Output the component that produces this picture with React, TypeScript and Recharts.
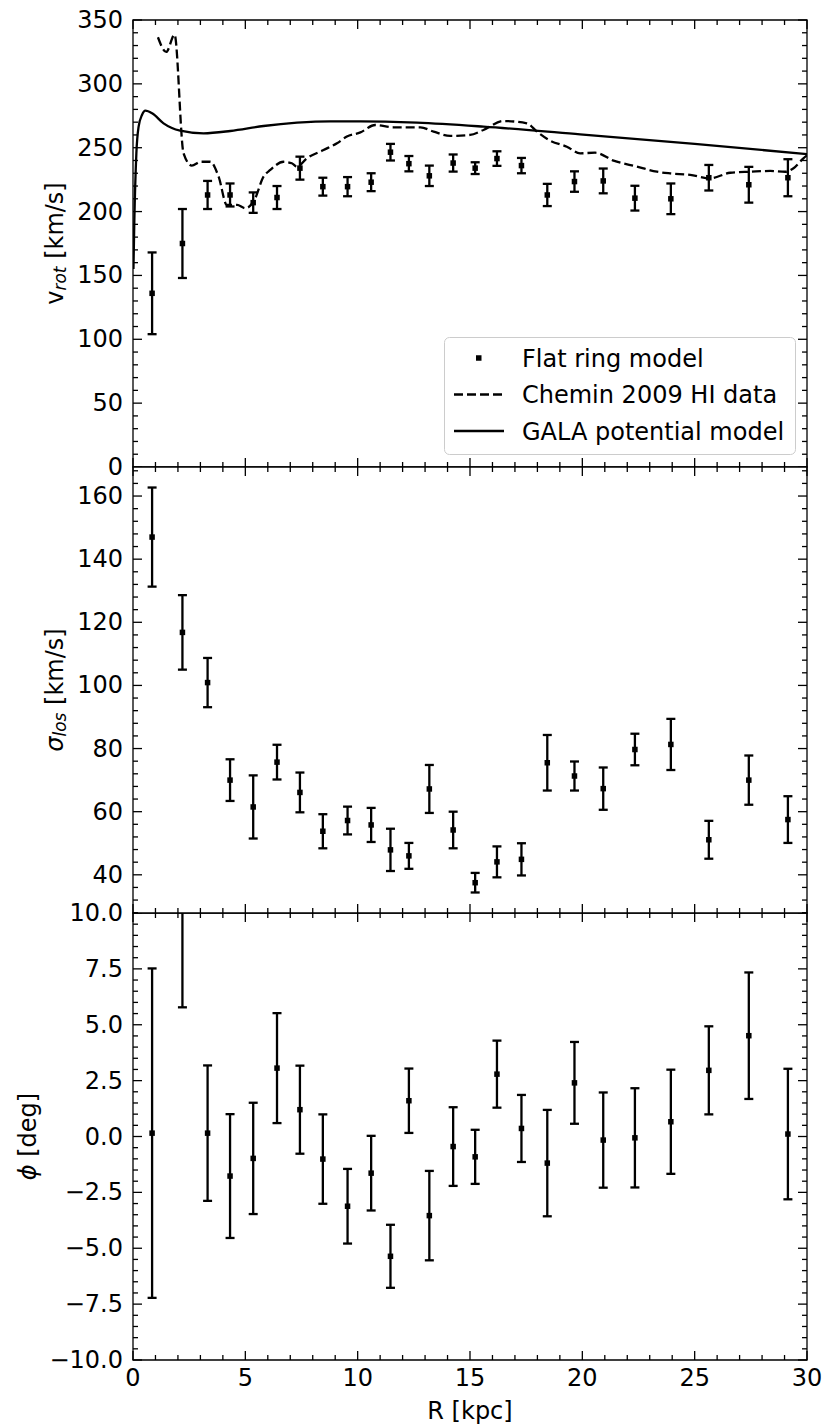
import React from 'react';
import {
  ComposedChart,
  Scatter,
  Line,
  XAxis,
  YAxis,
  ErrorBar,
  ReferenceArea,
  Legend,
  CartesianGrid,
} from 'recharts';

// ring radii shared by the three panels (kpc)
const ringR = [0.85, 2.2, 3.32, 4.32, 5.35, 6.41, 7.43, 8.45, 9.55, 10.6, 11.46, 12.28, 13.19,
  14.25, 15.23, 16.2, 17.29, 18.44, 19.65, 20.93, 22.34, 23.94, 25.63, 27.41, 29.15];

const vRot = [136, 175, 213, 213, 207, 211, 234, 219.5, 219.5, 223, 246.5, 237.5, 228, 238, 234,
  241.5, 236, 213, 223.5, 224, 210.5, 210, 226.5, 221, 226.5];
const vRotErr = [32, 27, 11, 9, 8, 9, 9, 7, 7.5, 7, 6.5, 6, 8, 6.7, 4.6, 5.7, 6, 8.7, 8, 9.7, 9.7,
  12, 10, 14, 14.5];

const sigmaLos = [147, 116.8, 100.9, 70, 61.5, 75.7, 66.1, 53.8, 57.2, 55.8, 47.9, 46, 67.2, 54.2,
  37.5, 44.1, 44.9, 75.5, 71.3, 67.3, 79.7, 81.3, 51.1, 70, 57.5];
const sigmaLosErr = [15.7, 11.8, 7.8, 6.6, 10, 5.5, 6.3, 5.4, 4.4, 5.4, 6.7, 4.1, 7.6, 5.8, 3.1, 4.9,
  5.1, 8.8, 4.6, 6.7, 5, 8.1, 6, 7.8, 7.4];

const phi = [0.15, 11.5, 0.15, -1.77, -0.98, 3.06, 1.2, -1.01, -3.12, -1.64, -5.36, 1.6, -3.54,
  -0.45, -0.91, 2.79, 0.36, -1.19, 2.4, -0.16, -0.06, 0.66, 2.96, 4.51, 0.11];
const phiErr = [7.37, 5.72, 3.03, 2.77, 2.49, 2.46, 1.97, 2.0, 1.67, 1.67, 1.41, 1.44, 2.0, 1.76,
  1.21, 1.5, 1.5, 2.38, 1.83, 2.13, 2.22, 2.33, 1.97, 2.83, 2.92];

// Chemin et al. 2009 HI rotation curve
const cheminR = [1.11, 1.48, 1.85, 2.25, 2.62, 3.0, 3.44, 3.81, 4.18, 4.63, 5.0, 5.4, 5.81, 6.11,
  6.7, 7.07, 7.3, 7.74, 8.48, 9.08, 9.52, 10.12, 10.78, 11.6, 12.79, 13.38, 14.12, 15.0, 15.6,
  16.49, 17.53, 17.98, 18.57, 19.31, 19.9, 20.57, 21.39, 22.43, 23.32, 23.91, 24.8, 25.69, 26.58,
  27.47, 28.36, 29.03, 29.4, 29.84, 30];
const cheminV = [336.5, 325, 338.5, 245.6, 236, 239, 239, 227.3, 205.2, 205.2, 202.6, 209, 227.3,
  232.6, 239, 237.8, 235.2, 241.7, 248.2, 253.5, 258.7, 262, 267.8, 266, 266, 262.6, 259.2, 260,
  263.9, 270.9, 269.1, 262.6, 255.5, 250.8, 245.6, 246.1, 239.9, 235.2, 231.2, 229.9, 228.7, 226,
  230.4, 231.2, 231.8, 231.2, 233.9, 241.7, 244];

// GALA potential circular velocity
const galaR = [0.02, 0.06, 0.15, 0.25, 0.4, 0.55, 0.85, 1.36, 2.1, 3.14, 4.33, 5.81, 7.3, 8.78,
  10.12, 12.64, 15.6, 19.9, 25, 30];
const galaV = [155, 193, 245.6, 266.5, 275.6, 279, 277, 269.1, 263.4, 261.3, 263.1, 267, 269.6,
  270.7, 270.7, 269.6, 266.5, 260.5, 253, 245];

const xMajor = [0, 5, 10, 15, 20, 25, 30];
const vMajor = [0, 50, 100, 150, 200, 250, 300, 350];
const sigmaMajor = [40, 60, 80, 100, 120, 140, 160];
const phiMajor = [-10, -7.5, -5, -2.5, 0, 2.5, 5, 7.5, 10];

const legendNames = ['Flat ring model', 'Chemin 2009 HI data', 'GALA potential model'];

const FONT = '"DejaVu Sans", sans-serif';
const W = 824;
const LEFT = 133;
const RIGHT = 807;
const PLOT_W = RIGHT - LEFT;
const LW = 2.3;
const PAD = 13; // room above/below each plot so edge tick labels are not cut

const steps = (lo: number, hi: number, step: number) => {
  const out: number[] = [];
  for (let v = lo; v <= hi + 1e-9; v += step) out.push(Math.round(v * 1000) / 1000);
  return out;
};

const xTicks = steps(0, 30, 1);
const vTicks = steps(0, 350, 10);
const sigmaTicks = steps(28, 168, 4);
const phiTicks = steps(-10, 10, 0.5);

const isIn = (list: number[], v: number) => list.some((m) => Math.abs(m - v) < 1e-6);
const minus = (s: string) => s.replace('-', '\u2212');

const rows = (xs: number[], ys: number[], errs?: number[]) =>
  xs.map((r, i) => ({ R: r, v: ys[i], err: errs ? errs[i] : 0 }));

const makeXTick = (plotH: number, labels: boolean) => (props: any) => {
  const { x, y, payload } = props;
  const major = isIn(xMajor, payload.value);
  const len = major ? 9 : 5;
  return (
    <g>
      <line x1={x} y1={y} x2={x} y2={y - len} stroke="#000" strokeWidth={1.3} />
      <line x1={x} y1={y - plotH} x2={x} y2={y - plotH + len} stroke="#000" strokeWidth={1.3} />
      {labels && major && (
        <text x={x} y={y + 26} textAnchor="middle" fontSize={24} fontFamily={FONT} fill="#000">
          {payload.value}
        </text>
      )}
    </g>
  );
};

const makeYTick = (majors: number[], fmt: (v: number) => string) => (props: any) => {
  const { x, y, payload } = props;
  const major = isIn(majors, payload.value);
  const len = major ? 9 : 5;
  return (
    <g>
      <line x1={x} y1={y} x2={x + len} y2={y} stroke="#000" strokeWidth={1.3} />
      <line x1={x + PLOT_W} y1={y} x2={x + PLOT_W - len} y2={y} stroke="#000" strokeWidth={1.3} />
      {major && (
        <text x={x - 10} y={y} textAnchor="end" dominantBaseline="central" fontSize={24}
          fontFamily={FONT} fill="#000">
          {fmt(payload.value)}
        </text>
      )}
    </g>
  );
};

const yTitle = (dx: number, body: React.ReactNode) => (props: any) => {
  const vb = props.viewBox;
  const cx = vb.x + vb.width - dx;
  const cy = vb.y + vb.height / 2;
  return (
    <text x={cx} y={cy} transform={`rotate(-90 ${cx} ${cy})`} textAnchor="middle"
      dominantBaseline="central" fontSize={24} fontFamily={FONT} fill="#000">
      {body}
    </text>
  );
};

const Square = (props: any) => (
  <rect x={props.cx - 2.75} y={props.cy - 2.75} width={5.5} height={5.5} fill="#000" />
);

const LegendBox = ({ payload }: any) => {
  const names: string[] = (payload || []).map((p: any) => p.value);
  const shown = legendNames.filter((n) => names.includes(n));
  return (
    <svg width={352} height={118} style={{ display: 'block' }}>
      <rect x={0.5} y={0.5} width={351} height={117} rx={5} fill="#fff" fillOpacity={0.8}
        stroke="#cccccc" strokeWidth={1} />
      {shown.map((name, i) => {
        const cy = 21 + i * 36.5;
        return (
          <g key={name}>
            {name === 'Flat ring model' && <rect x={32} y={cy - 2.75} width={5.5} height={5.5} fill="#000" />}
            {name === 'Chemin 2009 HI data' && (
              <line x1={10} y1={cy} x2={60} y2={cy} stroke="#000" strokeWidth={LW} strokeDasharray="9 4" />
            )}
            {name === 'GALA potential model' && (
              <line x1={10} y1={cy} x2={60} y2={cy} stroke="#000" strokeWidth={LW} />
            )}
            <text x={78} y={cy + 8.5} fontSize={24} fontFamily={FONT} fill="#000">{name}</text>
          </g>
        );
      })}
    </svg>
  );
};

// axes are 1px thick (a zero-size axis is not drawn at all); ticks are drawn by hand, inward
const xAxisProps = (plotH: number, labels: boolean) => ({
  dataKey: 'R',
  type: 'number' as const,
  domain: [0, 30],
  allowDataOverflow: true,
  ticks: xTicks,
  interval: 0,
  axisLine: false,
  tickLine: false,
  tickSize: 0,
  tickMargin: 0,
  tick: makeXTick(plotH, labels),
});

const yAxisCommon = {
  type: 'number' as const,
  allowDataOverflow: true,
  interval: 0,
  width: 1,
  axisLine: false,
  tickLine: false,
  tickSize: 0,
  tickMargin: 0,
};

// plot area 20..467 on the page
const RotPanel = () => {
  const plotH = 447;
  return (
    <ComposedChart width={W} height={20 + plotH + PAD + 1}
      margin={{ top: 20, right: W - RIGHT, bottom: PAD, left: LEFT - 1 }}>
      <XAxis {...xAxisProps(plotH, false)} height={1} />
      <YAxis {...yAxisCommon} domain={[0, 350]} ticks={vTicks}
        tick={makeYTick(vMajor, (v) => String(v))}
        label={{
          content: yTitle(78, (
            <>
              v<tspan fontSize={17} fontStyle="italic" dy={5}>rot</tspan>
              <tspan dy={-5}> [km/s]</tspan>
            </>
          )),
        }} />
      <Line data={rows(galaR, galaV)} dataKey="v" name="GALA potential model" type="monotone"
        stroke="#000" strokeWidth={LW} dot={false} isAnimationActive={false} />
      <Line data={rows(cheminR, cheminV)} dataKey="v" name="Chemin 2009 HI data" type="monotone"
        stroke="#000" strokeWidth={LW} strokeDasharray="9 4" dot={false} isAnimationActive={false} />
      <Scatter data={rows(ringR, vRot, vRotErr)} dataKey="v" name="Flat ring model" shape={Square}
        isAnimationActive={false}>
        <ErrorBar dataKey="err" direction="y" width={4.5} strokeWidth={LW} stroke="#000"
          isAnimationActive={false} />
      </Scatter>
      <ReferenceArea x1={0} x2={30} y1={0} y2={350} fill="none" stroke="#000" strokeWidth={1.3}
        fillOpacity={0} />
      <Legend layout="vertical" align="center" verticalAlign="middle"
        wrapperStyle={{ left: 444, top: 337, width: 352, height: 118 }}
        content={(p: any) => <LegendBox payload={p.payload} />} />
    </ComposedChart>
  );
};

// plot area 467..913 on the page; white plot background hides anything poking up from below
const SigmaPanel = () => {
  const plotH = 446;
  const lo = 27.9;
  const hi = 169.2;
  return (
    <ComposedChart width={W} height={PAD + plotH + PAD + 1}
      margin={{ top: PAD, right: W - RIGHT, bottom: PAD, left: LEFT - 1 }}>
      <CartesianGrid fill="#fff" fillOpacity={1} horizontal={false} vertical={false} />
      <XAxis {...xAxisProps(plotH, false)} height={1} />
      <YAxis {...yAxisCommon} domain={[lo, hi]} ticks={sigmaTicks}
        tick={makeYTick(sigmaMajor, (v) => String(v))}
        label={{
          content: yTitle(78, (
            <>
              <tspan fontStyle="italic">σ</tspan>
              <tspan fontSize={17} fontStyle="italic" dy={5}>los</tspan>
              <tspan dy={-5}> [km/s]</tspan>
            </>
          )),
        }} />
      <Scatter data={rows(ringR, sigmaLos, sigmaLosErr)} dataKey="v" name="Flat ring model"
        shape={Square} isAnimationActive={false}>
        <ErrorBar dataKey="err" direction="y" width={4.5} strokeWidth={LW} stroke="#000"
          isAnimationActive={false} />
      </Scatter>
      <ReferenceArea x1={0} x2={30} y1={lo} y2={hi} fill="none" stroke="#000" strokeWidth={1.3}
        fillOpacity={0} />
    </ComposedChart>
  );
};

// plot area 913..1360 on the page
const PhiPanel = () => {
  const plotH = 447;
  return (
    <ComposedChart width={W} height={PAD + plotH + 68}
      margin={{ top: PAD, right: W - RIGHT, bottom: 0, left: LEFT - 1 }}>
      <XAxis {...xAxisProps(plotH, true)} height={68}
        label={{
          content: (props: any) => {
            const vb = props.viewBox;
            return (
              <text x={vb.x + vb.width / 2} y={vb.y + 59} textAnchor="middle" fontSize={24}
                fontFamily={FONT} fill="#000">R [kpc]</text>
            );
          },
        }} />
      <YAxis {...yAxisCommon} domain={[-10, 10]} ticks={phiTicks}
        tick={makeYTick(phiMajor, (v) => minus(v.toFixed(1)))}
        label={{
          content: yTitle(105, (
            <>
              <tspan fontStyle="italic">ϕ</tspan>
              <tspan> [deg]</tspan>
            </>
          )),
        }} />
      <Scatter data={rows(ringR, phi, phiErr)} dataKey="v" name="Flat ring model" shape={Square}
        isAnimationActive={false}>
        <ErrorBar dataKey="err" direction="y" width={4.5} strokeWidth={LW} stroke="#000"
          isAnimationActive={false} />
      </Scatter>
      <ReferenceArea x1={0} x2={30} y1={-10} y2={10} fill="none" stroke="#000" strokeWidth={1.3}
        fillOpacity={0} />
    </ComposedChart>
  );
};

export default function App() {
  return (
    <div style={{ position: 'absolute', left: 0, top: 0, width: W, height: 1428, background: '#fff' }}>
      <div style={{ position: 'absolute', left: 0, top: 0, zIndex: 1 }}>
        <RotPanel />
      </div>
      <div style={{ position: 'absolute', left: 0, top: 913 - PAD, zIndex: 2 }}>
        <PhiPanel />
      </div>
      <div style={{ position: 'absolute', left: 0, top: 467 - PAD, zIndex: 3 }}>
        <SigmaPanel />
      </div>
    </div>
  );
}
